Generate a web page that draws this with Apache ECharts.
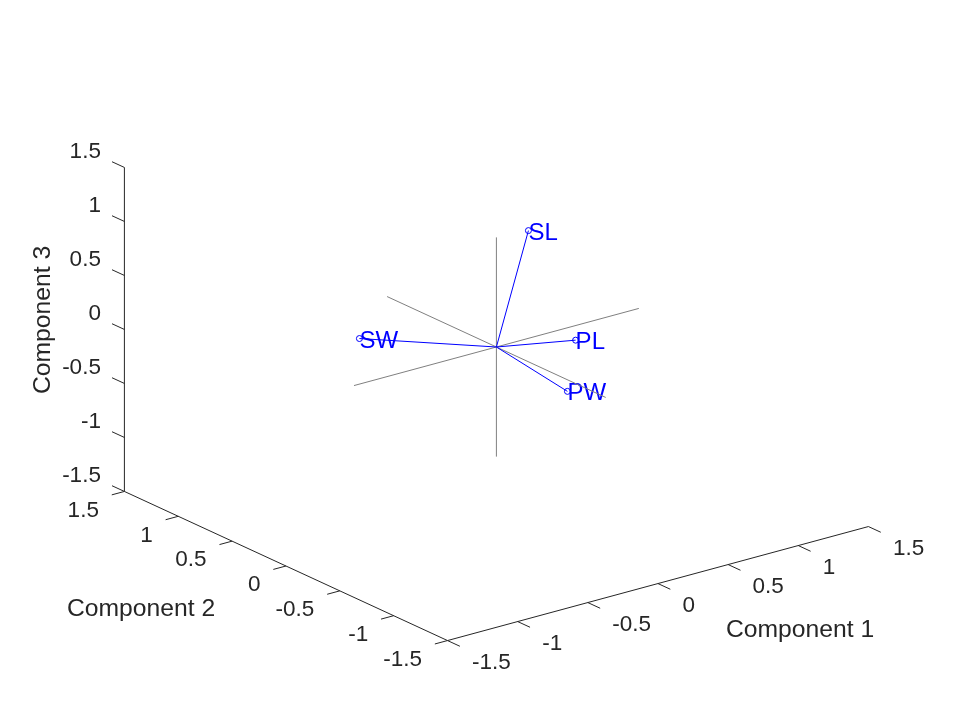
<!DOCTYPE html>
<html>
<head>
<meta charset="utf-8">
<style>html,body{margin:0;padding:0;background:#fff}#c{width:960px;height:720px}</style>
<script src="https://cdn.jsdelivr.net/npm/echarts@6/dist/echarts.min.js"></script>
</head>
<body>
<div id="c"></div>
<script>
// Data
var variables = ['SL', 'SW', 'PL', 'PW'];
var component1 = [0.52, -0.27, 0.58, 0.56];
var component2 = [0.38, 0.92, 0.02, 0.07];
var component3 = [0.72, -0.25, -0.15, -0.64];
var tickValues = [-1.5, -1, -0.5, 0, 0.5, 1, 1.5];
var tickLabels = ['-1.5', '-1', '-0.5', '0', '0.5', '1', '1.5'];
var axisNames = ['Component 1', 'Component 2', 'Component 3'];
var refLength = 1.015;

// View projection (orthographic view of the 3-D box on the page)
var view = {origin: [496.4, 347], e1: [140.3, -38], e2: [-107.7, -49.7], e3: [0, -108]};
function project(a, b, c) {
  return [
    view.origin[0] + a * view.e1[0] + b * view.e2[0] + c * view.e3[0],
    view.origin[1] + a * view.e1[1] + b * view.e2[1] + c * view.e3[1]
  ];
}
var TXT = '#262626', FONT = 'Liberation Sans', TICK = 22.5, NAME = 24.7;
var lo = -1.5, hi = 1.5;

function segments(list) {
  var out = [];
  list.forEach(function (s) { out.push(project.apply(null, s[0]), project.apply(null, s[1]), [null, null]); });
  return out;
}
function lineSeries(name, list, color, width) {
  return {
    name: name, type: 'line', data: segments(list), symbol: 'none', silent: true,
    connectNulls: false, animation: false,
    lineStyle: {color: color, width: width}
  };
}
function textSeries(name, pts, position, offset, size, color, rotate) {
  return {
    name: name, type: 'scatter', symbolSize: 1, silent: true, animation: false,
    itemStyle: {color: 'rgba(0,0,0,0)', opacity: 1},
    data: pts,
    label: {
      show: true, position: position, distance: 0, offset: offset, rotate: rotate || 0,
      fontFamily: FONT, fontSize: size, color: color,
      formatter: function (p) { return p.value[2]; }
    }
  };
}

// Box edges and ticks
var edges = [
  [[lo, lo, lo], [hi, lo, lo]],
  [[lo, lo, lo], [lo, hi, lo]],
  [[lo, hi, lo], [lo, hi, hi]]
];
var ticks = [];
tickValues.forEach(function (v) {
  ticks.push([[v, lo, lo], [v, lo - 0.115, lo]]);
  ticks.push([[lo, v, lo], [lo - 0.09, v, lo]]);
  ticks.push([[lo, hi, v], [lo, hi + 0.115, v]]);
});
// Reference lines through the origin
var refLines = [
  [[-refLength, 0, 0], [refLength, 0, 0]],
  [[0, -refLength, 0], [0, refLength, 0]],
  [[0, 0, -refLength], [0, 0, refLength]]
];
// Biplot vectors
var vectors = variables.map(function (n, i) {
  return [[0, 0, 0], [component1[i], component2[i], component3[i]]];
});
var vectorEnds = variables.map(function (n, i) {
  var p = project(component1[i], component2[i], component3[i]);
  return [p[0], p[1], n];
});
function tickPts(fn) {
  return tickValues.map(function (v, i) {
    var p = fn(v);
    return [p[0], p[1], tickLabels[i]];
  });
}

var series = [
  lineSeries('box', edges, TXT, 1),
  lineSeries('ticks', ticks, TXT, 1),
  lineSeries('reference', refLines, '#808080', 1),
  lineSeries('vectors', vectors, '#0000ff', 1),
  {
    name: 'ends', type: 'scatter', symbol: 'circle', symbolSize: 6, silent: true, animation: false,
    itemStyle: {color: 'rgba(0,0,0,0)', borderColor: '#0000ff', borderWidth: 1, opacity: 1},
    data: vectorEnds,
    label: {
      show: true, position: 'inside', distance: 0, fontFamily: FONT, fontSize: 24, color: '#0000ff',
      align: 'left', verticalAlign: 'middle', offset: [0, 2.5],
      formatter: function (p) { return p.value[2]; }
    }
  },
  textSeries('xticks', tickPts(function (v) { return project(v, lo, lo); }), 'right', [24, 22], TICK, TXT),
  textSeries('yticks', tickPts(function (v) { return project(lo, v, lo); }), 'left', [-25, 19], TICK, TXT),
  textSeries('zticks', tickPts(function (v) { return project(lo, hi, v); }), 'left', [-23, -16], TICK, TXT),
  textSeries('name1', [[800, 630, axisNames[0]]], 'inside', [0, 0], NAME, TXT),
  textSeries('name2', [[141, 609, axisNames[1]]], 'inside', [0, 0], NAME, TXT),
  textSeries('name3', [[43, 320, axisNames[2]]], 'inside', [0, 0], NAME, TXT, 90)
];

var chart = echarts.init(document.getElementById('c'), null, {renderer: 'canvas'});
chart.setOption({
  backgroundColor: '#ffffff',
  animation: false,
  grid: {left: 0, right: 0, top: 0, bottom: 0},
  xAxis: {type: 'value', min: 0, max: 960, show: false},
  yAxis: {type: 'value', min: 0, max: 720, inverse: true, show: false},
  series: series
});
</script>
</body>
</html>
